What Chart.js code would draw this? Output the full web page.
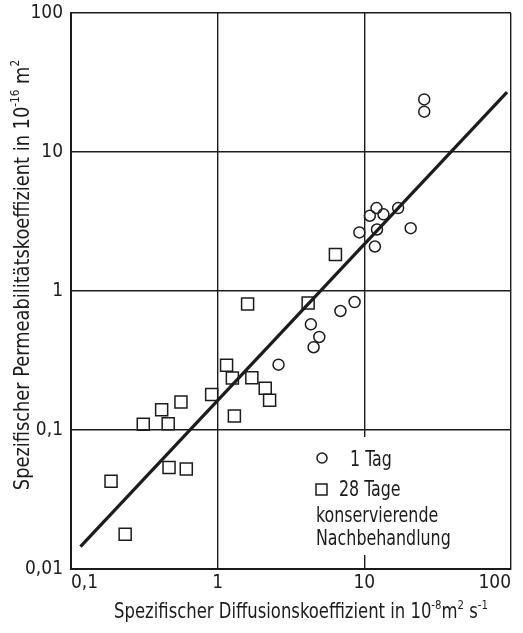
<!DOCTYPE html>
<html>
<head>
<meta charset="utf-8">
<script src="https://cdn.jsdelivr.net/npm/chart.js@4/dist/chart.umd.min.js"></script>
<style>
  html, body { margin: 0; padding: 0; background: #fff; }
  canvas { display: block; }
</style>
</head>
<body>
<canvas id="chart" width="523" height="633"></canvas>
<script>
// ── Data (log-log axes)
const circleX = [25.6, 25.6, 12.1, 10.9, 13.5, 17.0, 9.25, 12.2, 20.7, 11.8, 8.58, 6.87, 4.32, 4.93, 4.51, 2.60];
const circleY = [23.9, 19.5, 3.95, 3.48, 3.56, 3.95, 2.64, 2.77, 2.83, 2.09, 0.833, 0.718, 0.576, 0.467, 0.394, 0.295];

const squareX = [6.35, 1.60, 4.14, 1.15, 1.26, 1.71, 2.11, 2.26, 0.91, 1.30, 0.562, 0.415, 0.311, 0.460, 0.466, 0.611, 0.1875, 0.234];
const squareY = [1.83, 0.806, 0.820, 0.292, 0.237, 0.238, 0.200, 0.164, 0.180, 0.126, 0.159, 0.140, 0.110, 0.111, 0.0538, 0.0524, 0.0428, 0.0178];

// regression line end points
const fitX = [0.116, 94];
const fitY = [0.0145, 27];

const xTicks = [0.1, 1, 10, 100];
const xTickLabels = ['0,1', '1', '10', '100'];
const yTicks = [0.01, 0.1, 1, 10, 100];
const yTickLabels = ['0,01', '0,1', '1', '10', '100'];

const legendLabels = ['1 Tag', '28 Tage'];
const legendNote = ['konservierende', 'Nachbehandlung'];

// ── Style
const INK = '#1c1c1c';
const FONT = "'Liberation Sans Narrow', 'DejaVu Sans Condensed', sans-serif";
const SQUEEZE = 0.84;   // narrow the lettering like the original's condensed type

const toPoints = (xs, ys) => xs.map((x, i) => ({ x: x, y: ys[i] }));

// draw a string with superscript parts: parts = [[text, isSup], ...]
function drawRich(ctx, parts, size, supSize) {
  let total = 0;
  parts.forEach(p => {
    ctx.font = (p[1] ? supSize : size) + 'px ' + FONT;
    total += ctx.measureText(p[0]).width;
  });
  let x = -total / 2;
  parts.forEach(p => {
    ctx.font = (p[1] ? supSize : size) + 'px ' + FONT;
    ctx.fillText(p[0], x, p[1] ? -size * 0.45 : 0);
    x += ctx.measureText(p[0]).width;
  });
}

// axis titles with real superscripts
const titlePlugin = {
  id: 'titles',
  afterDraw(chart) {
    const ctx = chart.ctx;
    ctx.save();
    ctx.fillStyle = INK;
    ctx.textBaseline = 'alphabetic';
    ctx.textAlign = 'left';

    ctx.save();
    ctx.translate(301, 618);
    ctx.scale(0.87, 1);
    drawRich(ctx, [['Spezifischer Diffusionskoeffizient in 10', false], ['-8', true],
                   ['m', false], ['2', true], [' s', false], ['-1', true]], 21, 13);
    ctx.restore();

    ctx.save();
    ctx.translate(29, 275);
    ctx.rotate(-Math.PI / 2);
    ctx.scale(0.9, 1);
    drawRich(ctx, [['Spezifischer Permeabilitätskoeffizient in 10', false], ['-16', true],
                   [' m', false], ['2', true]], 22, 13);
    ctx.restore();
    ctx.restore();
  },
};

// legend box inside the plot, covering the grid
const legendPlugin = {
  id: 'boxLegend',
  beforeDatasetsDraw(chart) {
    const ctx = chart.ctx;
    ctx.save();
    ctx.fillStyle = '#fff';
    ctx.fillRect(300, 437, 200, 118);

    ctx.strokeStyle = INK;
    ctx.lineWidth = 1.5;
    ctx.beginPath();
    ctx.arc(322, 458, 5, 0, Math.PI * 2);
    ctx.stroke();
    ctx.strokeRect(316, 484, 11, 11);

    ctx.fillStyle = INK;
    ctx.font = '21px ' + FONT;
    ctx.textAlign = 'left';
    ctx.textBaseline = 'alphabetic';
    const lines = [[legendLabels[0], 350, 466], [legendLabels[1], 339, 496],
                   [legendNote[0], 316, 522], [legendNote[1], 316, 545]];
    lines.forEach(l => {
      ctx.save();
      ctx.translate(l[1], l[2]);
      ctx.scale(SQUEEZE, 1);
      ctx.fillText(l[0], 0, 0);
      ctx.restore();
    });
    ctx.restore();
  },
};

new Chart(document.getElementById('chart'), {
  data: {
    datasets: [
      {
        type: 'scatter',
        label: legendLabels[0],
        data: toPoints(circleX, circleY),
        pointStyle: 'circle',
        pointRadius: 5.5,
        backgroundColor: 'rgba(255,255,255,0)',
        borderColor: INK,
        borderWidth: 1.5,
      },
      {
        type: 'scatter',
        label: legendLabels[1],
        data: toPoints(squareX, squareY),
        pointStyle: 'rect',
        pointRadius: 8.5,
        backgroundColor: 'rgba(255,255,255,0)',
        borderColor: INK,
        borderWidth: 1.5,
      },
      {
        type: 'line',
        label: 'fit',
        data: toPoints(fitX, fitY),
        borderColor: INK,
        borderWidth: 3.2,
        pointRadius: 0,
        fill: false,
      },
    ],
  },
  options: {
    responsive: false,
    animation: false,
    devicePixelRatio: 1,
    layout: { padding: { left: 0, right: 12, top: 13, bottom: 0 } },
    plugins: {
      legend: { display: false },
      tooltip: { enabled: false },
    },
    scales: {
      x: {
        type: 'logarithmic',
        min: 0.1,
        max: 100,
        afterBuildTicks: s => { s.ticks = xTicks.map(v => ({ value: v })); },
        afterFit: s => { s.height = 64; s.paddingLeft = 0; s.paddingRight = 0; },
        grid: { color: INK, lineWidth: 1.4, drawTicks: false },
        border: { color: INK, width: 2 },
        ticks: {
          color: INK,
          padding: 3,
          align: 'inner',
          maxRotation: 0,
          autoSkip: false,
          font: { family: FONT, size: 19 },
          callback: (v, i) => xTickLabels[i],
        },
      },
      y: {
        type: 'logarithmic',
        min: 0.01,
        max: 100,
        afterBuildTicks: s => { s.ticks = yTicks.map(v => ({ value: v })); },
        afterFit: s => { s.width = 71; s.paddingTop = 0; s.paddingBottom = 0; },
        grid: { color: INK, lineWidth: 1.4, drawTicks: false },
        border: { color: INK, width: 2 },
        ticks: {
          color: INK,
          padding: 8,
          autoSkip: false,
          font: { family: FONT, size: 19 },
          callback: (v, i) => yTickLabels[i],
        },
      },
    },
  },
  plugins: [legendPlugin, titlePlugin],
});
</script>
</body>
</html>
